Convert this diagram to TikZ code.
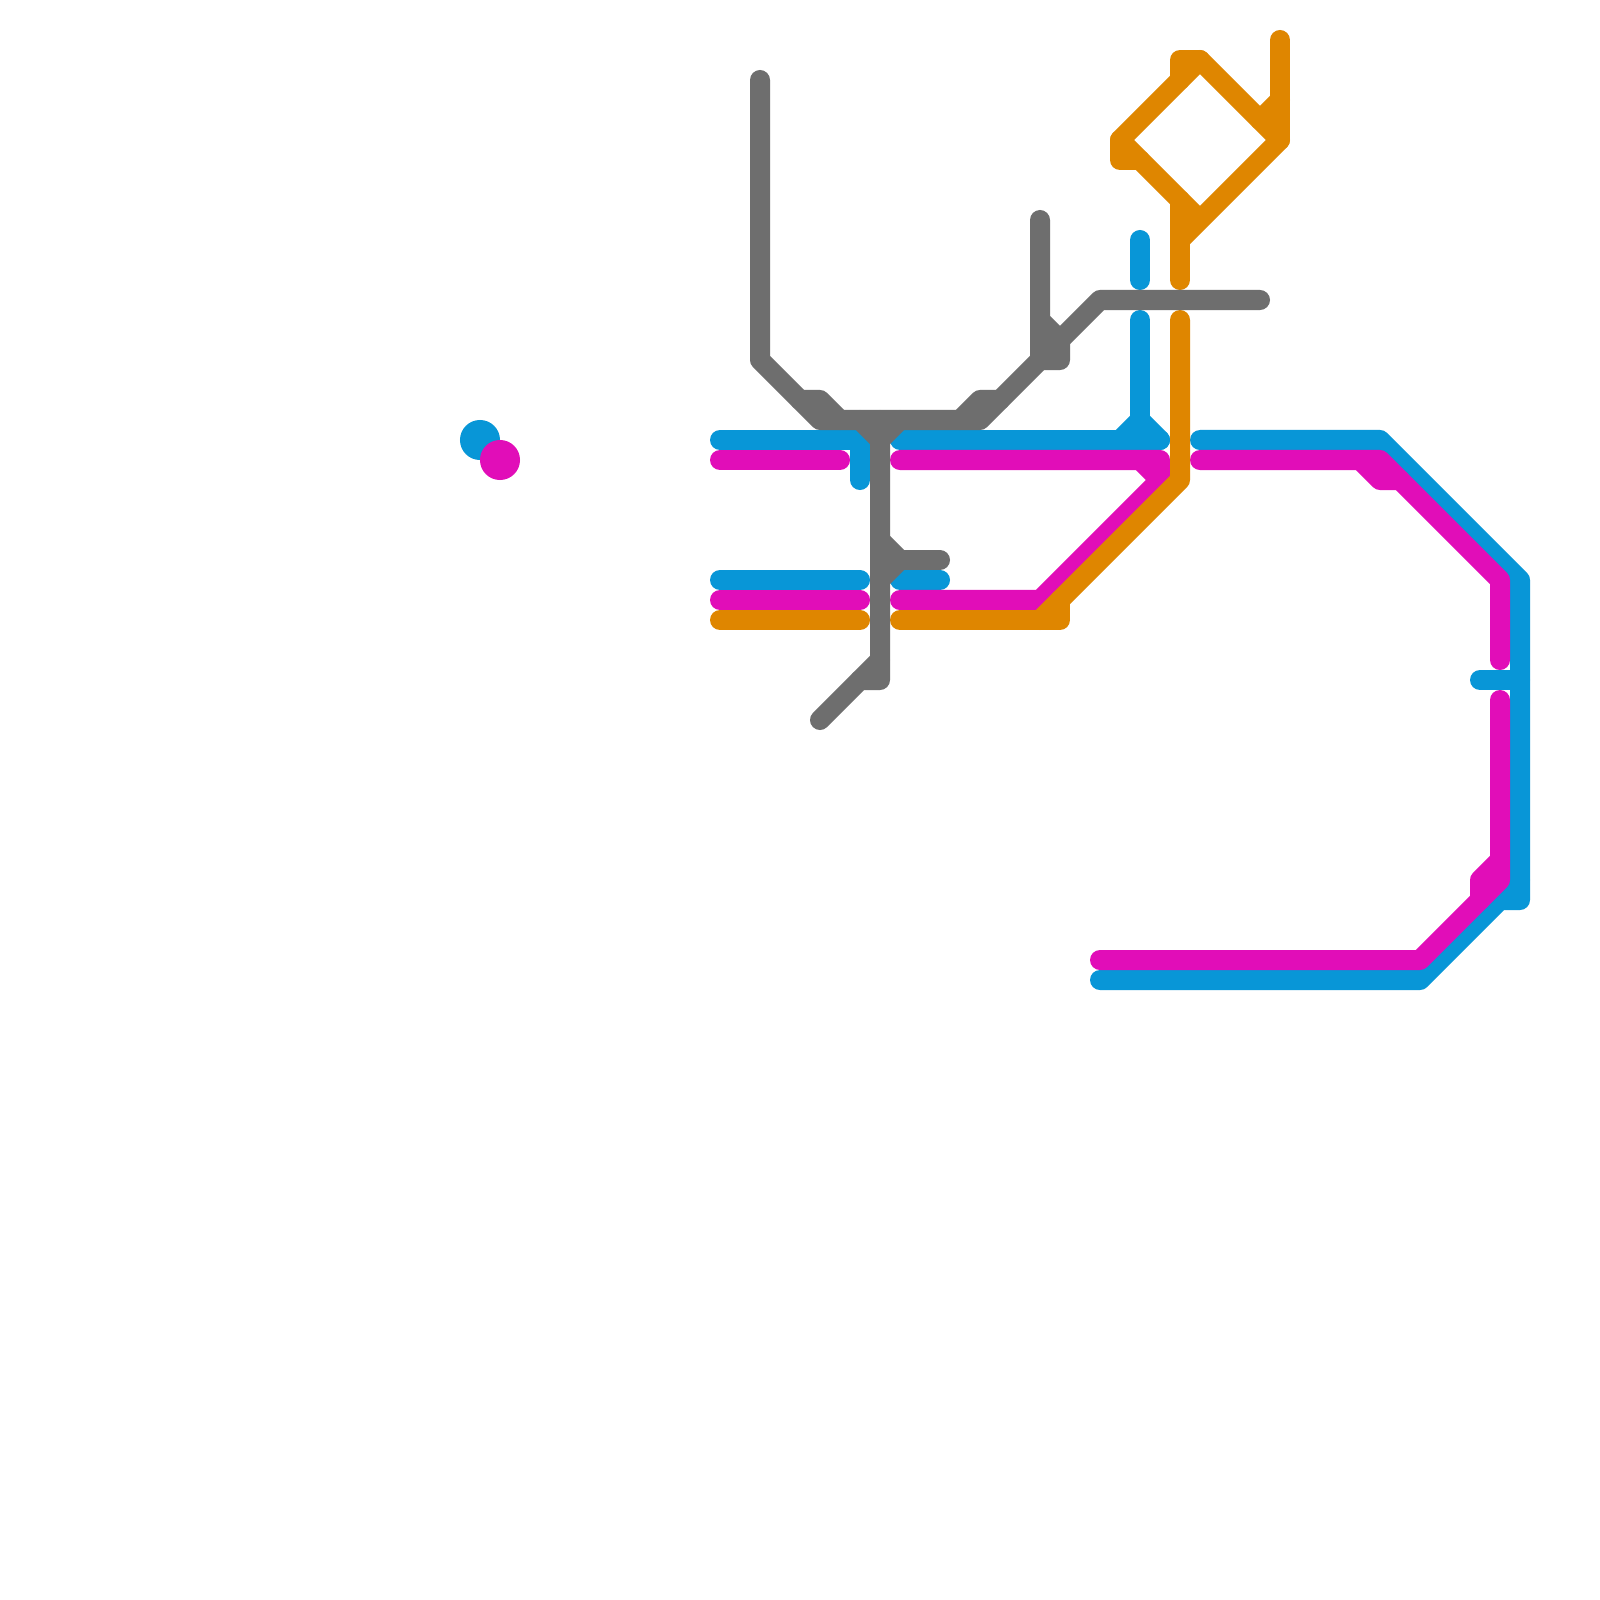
\documentclass[tikz,border=0pt]{standalone}
\definecolor{lineblue}{HTML}{0896D7}
\definecolor{linepink}{HTML}{E10DB8}
\definecolor{lineorange}{HTML}{DF8600}
\definecolor{linegray}{HTML}{6E6E6E}
\tikzset{
  route/.style={line width=0.2cm,line cap=round,line join=round},
  blueroute/.style={route,draw=lineblue},
  pinkroute/.style={route,draw=linepink},
  orangeroute/.style={route,draw=lineorange},
  grayroute/.style={route,draw=linegray},
}
\begin{document}
\begin{tikzpicture}[x=0.01cm,y=-0.01cm]
\path[fill=white] (0,0) rectangle (1600,1600);
\useasboundingbox (0,0) rectangle (1600,1600);
% blue
\draw[blueroute] (720,440) -- (860,440) -- (860,480);
\draw[blueroute] (900,440) -- (1160,440);
\draw[blueroute] (1120,440) -- (1140,420) -- (1160,440);
\draw[blueroute] (1140,320) -- (1140,420);
\draw[blueroute] (1140,240) -- (1140,280);
\draw[blueroute] (720,580) -- (860,580);
\draw[blueroute] (900,580) -- (940,580);
\draw[blueroute] (1200,440) -- (1380,440) -- (1520,580) -- (1520,900) -- (1500,900) -- (1420,980) -- (1100,980);
\draw[blueroute] (1520,880) -- (1500,900);
\draw[blueroute] (1480,680) -- (1520,680);
% pink
\draw[pinkroute] (720,460) -- (840,460);
\draw[pinkroute] (900,460) -- (1160,460) -- (1160,480) -- (1040,600) -- (900,600);
\draw[pinkroute] (1140,460) -- (1160,480);
\draw[pinkroute] (720,600) -- (860,600);
\draw[pinkroute] (1200,460) -- (1380,460) -- (1500,580) -- (1500,660);
\draw[pinkroute] (1360,460) -- (1380,480) -- (1400,480);
\draw[pinkroute] (1500,700) -- (1500,880) -- (1420,960) -- (1100,960);
\draw[pinkroute] (1500,860) -- (1480,880) -- (1480,900);
% orange
\draw[orangeroute] (720,620) -- (860,620);
\draw[orangeroute] (900,620) -- (1060,620) -- (1060,600);
\draw[orangeroute] (1040,620) -- (1180,480) -- (1180,320);
\draw[orangeroute] (1180,280) -- (1180,200);
\draw[orangeroute] (1180,240) -- (1280,140) -- (1200,60) -- (1120,140) -- (1200,220);
\draw[orangeroute] (1280,40) -- (1280,140);
\draw[orangeroute] (1260,120) -- (1280,100);
\draw[orangeroute] (1180,80) -- (1180,60) -- (1200,60);
\draw[orangeroute] (1120,140) -- (1120,160) -- (1140,160);
% gray
\draw[grayroute] (760,80) -- (760,360) -- (820,420) -- (980,420) -- (1100,300) -- (1260,300);
\draw[grayroute] (800,400) -- (820,400) -- (840,420);
\draw[grayroute] (960,420) -- (980,400) -- (1000,400);
\draw[grayroute] (1040,220) -- (1040,360) -- (1060,360) -- (1060,340) -- (1040,320);
\draw[grayroute] (860,420) -- (880,440) -- (900,420);
\draw[grayroute] (880,420) -- (880,680) -- (860,680) -- (820,720);
\draw[grayroute] (860,680) -- (880,660);
\draw[grayroute] (880,540) -- (900,560) -- (880,580);
\draw[grayroute] (900,560) -- (940,560);
% legend dots
\fill[lineblue] (480,440) circle (0.2cm);
\fill[linepink] (500,460) circle (0.2cm);
\end{tikzpicture}
\end{document}
